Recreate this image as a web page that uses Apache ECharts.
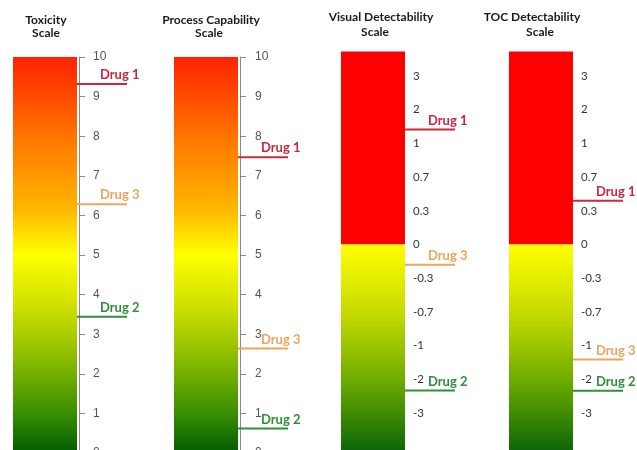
<!DOCTYPE html>
<html><head><meta charset="utf-8">
<script src="https://cdn.jsdelivr.net/npm/echarts@6/dist/echarts.min.js"></script>
<style>html,body{margin:0;padding:0;background:#fff}#c{width:637px;height:450px}</style>
</head><body><div id="c"></div>
<script>
// ---- data ----
const titleLines = [['Toxicity','Scale'],['Process Capability','Scale'],['Visual Detectability','Scale'],['TOC Detectability','Scale']];
const linearTicks = [0,1,2,3,4,5,6,7,8,9,10];
const detectTickValues = [-3,-2,-1,-0.7,-0.3,0,0.3,0.7,1,2,3];
const detectTickLabels = ['-3','-2','-1','-0.7','-0.3','0','0.3','0.7','1','2','3'];
const drugNames = ['Drug 1','Drug 2','Drug 3'];
const toxicity = [9.32, 3.44, 6.28];
const processCap = [7.47, 0.62, 2.64];
const visualDetect = [1.41, -2.33, -0.18];
const tocDetect = [0.42, -2.34, -1.41];
const linearBar = [0, 10];
const detectRedBar = [0, 3.73];
const detectGreenBar = [-4.2, 0];

// ---- styles ----
const drugColors = ['#c9283e','#2f8f3a','#efa45e'];
const heatStops = [
  {offset:0, color:'#ff2200'},{offset:0.2, color:'#ff7400'},{offset:0.38, color:'#ffb400'},
  {offset:0.5, color:'#ffff00'},{offset:0.62, color:'#d2e200'},{offset:0.76, color:'#8abc00'},
  {offset:0.9, color:'#3a8e00'},{offset:1, color:'#005c00'}];
const greenStops = [
  {offset:0, color:'#ffff00'},{offset:0.33, color:'#c6da00'},{offset:0.66, color:'#6aaa00'},{offset:1, color:'#0a640a'}];
const gridLefts = [13, 174, 341, 509];

function detectPos(v){
  const t = detectTickValues, n = t.length, mid = 5;
  if (v >= t[n-1]) return (n-1-mid) + (v - t[n-1]);
  if (v <= t[0]) return (0-mid) + (v - t[0]);
  for (let i=0;i<n-1;i++){
    if (v>=t[i] && v<=t[i+1]) return i - mid + (v-t[i])/(t[i+1]-t[i]);
  }
}

const grids = [], xAxes = [], yAxes = [], series = [];
const linTop = 57, linH = 396;
const detUnit = 33.7, detZero = 244.5;
gridLefts.forEach((l, i) => {
  const detect = i >= 2;
  if (!detect) grids.push({left:l, top:linTop, width:64, height:linH, outerBoundsMode:'none', containLabel:false});
  else grids.push({left:l, top:detZero - 6*detUnit, width:64, height:13*detUnit, outerBoundsMode:'none', containLabel:false});
  xAxes.push({type:'value', gridIndex:i, min:0, max:1, show:false});
  if (!detect) {
    yAxes.push({type:'value', gridIndex:i, min:linearTicks[0], max:linearTicks[linearTicks.length-1], interval:1,
      position:'right', offset:2,
      axisLine:{show:true, onZero:false, lineStyle:{color:'#8a8a8a', width:1}},
      axisTick:{show:true, length:6, lineStyle:{color:'#8a8a8a'}},
      splitLine:{show:false},
      axisLabel:{margin: i===0?14:15, color:'#555', fontSize:12, fontFamily:'Liberation Sans, Arial, sans-serif'}});
  } else {
    yAxes.push({type:'value', gridIndex:i, min:-7, max:6, interval:1, position:'right',
      axisLine:{show:false, onZero:false}, axisTick:{show:false}, splitLine:{show:false},
      axisLabel:{margin:8, color:'#333', fontSize:11.5, fontFamily:'Lato, sans-serif',
        formatter: p => { const k = Math.round(p)+5; return (k>=0 && k<detectTickLabels.length) ? detectTickLabels[k] : ''; }}});
  }
});

function barSeries(i, lo, hi, fill){
  return {type:'custom', xAxisIndex:i, yAxisIndex:i, silent:true, clip:false, z:1,
    data:[[lo, hi]],
    renderItem:(params, api) => {
      const a = api.coord([0, api.value(1)]);
      const b = api.coord([1, api.value(0)]);
      return {type:'rect', shape:{x:a[0], y:a[1], width:b[0]-a[0], height:b[1]-a[1]}, style:{fill:fill}};
    }};
}
function drugSeries(i, vals, conv){
  return {type:'custom', xAxisIndex:i, yAxisIndex:i, silent:true, clip:false, z:5,
    data: vals.map((v, k) => [conv(v), k]),
    renderItem:(params, api) => {
      const c = api.coord([1, api.value(0)]);
      const k = api.value(1);
      const col = drugColors[k];
      return {type:'group', children:[
        {type:'line', shape:{x1:c[0], y1:c[1], x2:c[0]+50, y2:c[1]}, style:{stroke:col, lineWidth:2}},
        {type:'text', x:c[0]+23, y:c[1]-9, style:{text:drugNames[k], fill:col, font:'bold 13px Lato, sans-serif', align:'left', verticalAlign:'middle'}}
      ]};
    }};
}
const id = v => v;
series.push(barSeries(0, linearBar[0], linearBar[1], new echarts.graphic.LinearGradient(0,0,0,1,heatStops)));
series.push(barSeries(1, linearBar[0], linearBar[1], new echarts.graphic.LinearGradient(0,0,0,1,heatStops)));
[2,3].forEach(i => {
  series.push(barSeries(i, detectPos(detectRedBar[0]), detectPos(detectRedBar[1]), '#fe0000'));
  series.push(barSeries(i, detectPos(detectGreenBar[0]), detectPos(detectGreenBar[1]), new echarts.graphic.LinearGradient(0,0,0,1,greenStops)));
});
series.push(drugSeries(0, toxicity, id));
series.push(drugSeries(1, processCap, id));
series.push(drugSeries(2, visualDetect, detectPos));
series.push(drugSeries(3, tocDetect, detectPos));

const titleLayout = [[[46,20],[46,33]],[[211,20],[209,33]],[[381,17],[375,32]],[[532,17],[540,32]]];
const graphics = [];
titleLines.forEach((lines, i) => lines.forEach((t, j) => {
  graphics.push({type:'text', x:titleLayout[i][j][0], y:titleLayout[i][j][1],
    style:{text:t, fill:'#1a1a1a', font:'bold 12px Lato, sans-serif', align:'center', verticalAlign:'middle'}});
}));

const chart = echarts.init(document.getElementById('c'), null, {renderer:'canvas'});
chart.setOption({animation:false, backgroundColor:'#fff', grid:grids, xAxis:xAxes, yAxis:yAxes, series:series, graphic:graphics});
</script></body></html>
